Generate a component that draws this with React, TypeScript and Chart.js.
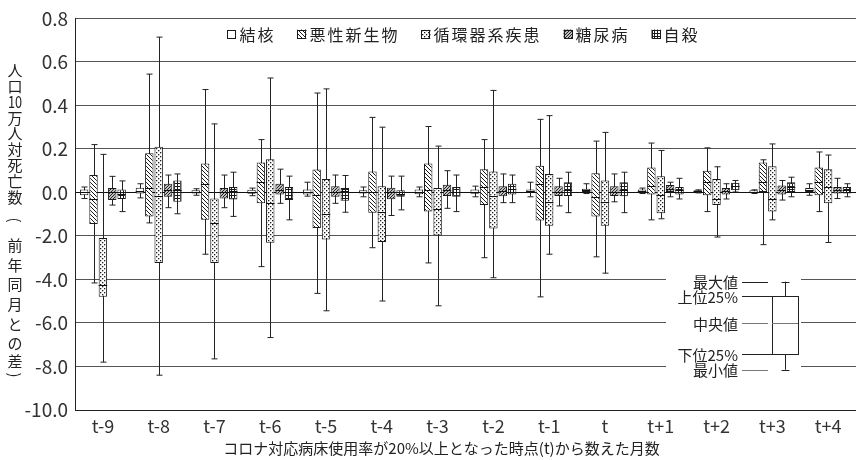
import { useEffect, useRef } from 'react';
import { Chart, registerables } from 'chart.js';

Chart.register(...registerables);

const FONT = '"Noto Sans CJK JP", "Noto Sans", sans-serif';

const categories = ['t-9', 't-8', 't-7', 't-6', 't-5', 't-4', 't-3', 't-2', 't-1', 't', 't+1', 't+2', 't+3', 't+4'];
const seriesLabels = ['結核', '悪性新生物', '循環器系疾患', '糖尿病', '自殺'];

// Each entry: [min, lower 25%, median, upper 25%, max] per category.
// Axis unit is linear; below zero the printed tick labels read ten times the value.
const tuberculosis = [
  [-0.028, -0.013, 0.002, 0.013, 0.025],
  [-0.025, -0.005, 0.005, 0.022, 0.04],
  [-0.013, -0.005, 0.0, 0.01, 0.017],
  [-0.015, -0.006, 0.002, 0.012, 0.02],
  [-0.017, -0.01, 0.002, 0.014, 0.047],
  [-0.02, -0.005, 0.0, 0.01, 0.025],
  [-0.02, -0.008, 0.002, 0.014, 0.025],
  [-0.02, -0.006, 0.0, 0.013, 0.029],
  [-0.02, 0.0, 0.005, 0.014, 0.047],
  [-0.005, 0.002, 0.01, 0.017, 0.04],
  [-0.005, 0.0, 0.005, 0.014, 0.02],
  [-0.002, 0.0, 0.005, 0.01, 0.012],
  [-0.005, -0.002, 0.004, 0.01, 0.012],
  [-0.013, 0.0, 0.01, 0.02, 0.04],
];
const neoplasms = [
  [-0.416, -0.145, -0.03, 0.08, 0.22],
  [-0.14, -0.11, 0.02, 0.18, 0.544],
  [-0.284, -0.126, 0.04, 0.133, 0.473],
  [-0.341, -0.05, 0.05, 0.138, 0.243],
  [-0.464, -0.163, -0.01, 0.105, 0.457],
  [-0.254, -0.093, 0.0, 0.096, 0.345],
  [-0.324, -0.088, 0.01, 0.133, 0.303],
  [-0.3, -0.058, 0.025, 0.107, 0.243],
  [-0.48, -0.129, 0.04, 0.123, 0.336],
  [-0.296, -0.111, -0.023, 0.088, 0.236],
  [-0.126, -0.01, 0.03, 0.115, 0.227],
  [-0.088, -0.013, 0.047, 0.1, 0.205],
  [-0.24, 0.0, 0.047, 0.138, 0.15],
  [-0.088, -0.013, 0.047, 0.115, 0.186],
];
const circulatory = [
  [-0.78, -0.479, -0.424, -0.209, 0.175],
  [-0.84, -0.324, -0.015, 0.21, 0.714],
  [-0.765, -0.324, -0.14, -0.028, 0.315],
  [-0.667, -0.231, -0.05, 0.153, 0.526],
  [-0.544, -0.216, -0.098, 0.062, 0.476],
  [-0.499, -0.228, -0.09, 0.028, 0.3],
  [-0.521, -0.198, -0.076, 0.02, 0.213],
  [-0.392, -0.166, -0.017, 0.096, 0.469],
  [-0.284, -0.153, -0.043, 0.085, 0.353],
  [-0.371, -0.153, -0.043, 0.055, 0.276],
  [-0.121, -0.096, -0.01, 0.075, 0.193],
  [-0.205, -0.058, -0.028, 0.062, 0.118],
  [-0.126, -0.088, -0.028, 0.12, 0.223],
  [-0.23, -0.05, 0.025, 0.107, 0.172],
];
const diabetes = [
  [-0.058, -0.035, 0.0, 0.02, 0.074],
  [-0.07, -0.02, 0.01, 0.04, 0.08],
  [-0.07, -0.028, 0.0, 0.02, 0.08],
  [-0.05, -0.01, 0.01, 0.04, 0.107],
  [-0.05, -0.02, 0.0, 0.029, 0.08],
  [-0.106, -0.031, 0.0, 0.022, 0.075],
  [-0.073, -0.016, 0.01, 0.035, 0.1],
  [-0.047, -0.017, 0.005, 0.028, 0.085],
  [-0.062, -0.016, 0.0, 0.028, 0.065],
  [-0.043, -0.016, 0.0, 0.028, 0.085],
  [-0.02, 0.002, 0.015, 0.034, 0.047],
  [-0.03, -0.01, 0.005, 0.02, 0.04],
  [-0.035, -0.01, 0.01, 0.032, 0.055],
  [-0.028, -0.005, 0.01, 0.025, 0.065],
];
const suicide = [
  [-0.088, -0.03, -0.005, 0.014, 0.053],
  [-0.098, -0.043, 0.01, 0.055, 0.085],
  [-0.11, -0.032, 0.005, 0.025, 0.093],
  [-0.126, -0.035, 0.0, 0.025, 0.075],
  [-0.091, -0.038, 0.005, 0.02, 0.078],
  [-0.08, -0.02, -0.005, 0.01, 0.075],
  [-0.088, -0.02, 0.0, 0.025, 0.08],
  [-0.047, -0.01, 0.015, 0.04, 0.08],
  [-0.093, -0.016, 0.01, 0.047, 0.093],
  [-0.093, -0.017, 0.01, 0.047, 0.093],
  [-0.03, -0.01, 0.01, 0.025, 0.065],
  [0.002, 0.01, 0.03, 0.045, 0.055],
  [-0.02, 0.002, 0.025, 0.047, 0.07],
  [-0.02, -0.005, 0.01, 0.025, 0.04],
];
const seriesStats = [tuberculosis, neoplasms, circulatory, diabetes, suicide];
const seriesPatterns = ['plain', 'back', 'dots', 'slash', 'grid'];

const yAxisTitle = ['人', '口', '10', '万', '人', '対', '死', '亡', '数', '(', '前', '年', '同', '月', 'と', 'の', '差', ')'];
const xAxisTitle = 'コロナ対応病床使用率が20%以上となった時点(t)から数えた月数';
const keyLabels = ['最大値', '上位25%', '中央値', '下位25%', '最小値'];
const keyLevels = [-0.41, -0.476, -0.6, -0.743, -0.815];

function makePattern(kind: string): CanvasPattern | string {
  if (kind === 'plain') return '#ffffff';
  const size = kind === 'grid' || kind === 'slash' ? 3 : 4;
  const c = document.createElement('canvas');
  c.width = size;
  c.height = size;
  const g = c.getContext('2d')!;
  g.fillStyle = '#fff';
  g.fillRect(0, 0, size, size);
  g.strokeStyle = '#1a1a1a';
  g.fillStyle = '#1a1a1a';
  g.lineWidth = 1;
  if (kind === 'back') {
    g.beginPath();
    g.moveTo(-1, -1); g.lineTo(size + 1, size + 1);
    g.moveTo(-1, size - 1); g.lineTo(1, size + 1);
    g.moveTo(size - 1, -1); g.lineTo(size + 1, 1);
    g.stroke();
  } else if (kind === 'slash') {
    g.lineWidth = 1.1;
    g.beginPath();
    g.moveTo(-1, size + 1); g.lineTo(size + 1, -1);
    g.moveTo(-1, 1); g.lineTo(1, -1);
    g.moveTo(size - 1, size + 1); g.lineTo(size + 1, size - 1);
    g.stroke();
  } else if (kind === 'dots') {
    g.fillRect(0, 0, 1.3, 1.3);
    g.fillRect(2, 2, 1.3, 1.3);
  } else if (kind === 'grid') {
    g.fillRect(0, 0, size, 1);
    g.fillRect(0, 0, 1, size);
  }
  return g.createPattern(c, 'repeat')!;
}

function tickLabel(v: number): string {
  if (Math.abs(v) < 1e-9) return '0.0';
  return v > 0 ? v.toFixed(1) : (v * 10).toFixed(1);
}

export default function App() {
  const ref = useRef<HTMLCanvasElement>(null);

  useEffect(() => {
    const canvas = ref.current!;
    const patterns = seriesPatterns.map(makePattern);

    const datasets = seriesLabels.map((label, i) => ({
      label,
      data: seriesStats[i].map((s) => [s[1], s[3]]),
      backgroundColor: patterns[i],
      borderColor: '#1a1a1a',
      borderWidth: 1,
      borderSkipped: false as const,
      categoryPercentage: 0.84,
      barPercentage: 0.9,
    }));

    const boxPlugin = {
      id: 'boxWhiskers',
      beforeDatasetsDraw(chart: any) {
        const y = chart.scales.y;
        const ctx = chart.ctx;
        ctx.save();
        ctx.strokeStyle = '#222';
        ctx.lineWidth = 1;
        seriesStats.forEach((stats, i) => {
          const meta = chart.getDatasetMeta(i);
          meta.data.forEach((el: any, j: number) => {
            const s = stats[j];
            const x = Math.round(el.x) + 0.5;
            const y0 = y.getPixelForValue(s[0]);
            const y4 = y.getPixelForValue(s[4]);
            ctx.beginPath();
            ctx.moveTo(x, y4); ctx.lineTo(x, y0);
            ctx.moveTo(x - 3, y4); ctx.lineTo(x + 3, y4);
            ctx.moveTo(x - 3, y0); ctx.lineTo(x + 3, y0);
            ctx.stroke();
          });
        });
        ctx.restore();
      },
      afterDatasetsDraw(chart: any) {
        const y = chart.scales.y;
        const ctx = chart.ctx;
        ctx.save();
        ctx.strokeStyle = '#111';
        ctx.lineWidth = 1;
        seriesStats.forEach((stats, i) => {
          const meta = chart.getDatasetMeta(i);
          meta.data.forEach((el: any, j: number) => {
            const ym = Math.round(y.getPixelForValue(stats[j][2])) + 0.5;
            ctx.beginPath();
            ctx.moveTo(el.x - el.width / 2, ym);
            ctx.lineTo(el.x + el.width / 2, ym);
            ctx.stroke();
          });
        });
        ctx.restore();
      },
    };

    const decorPlugin = {
      id: 'decor',
      afterDraw(chart: any) {
        const ctx = chart.ctx;
        const a = chart.chartArea;
        const y = chart.scales.y;
        ctx.save();

        // Legend inside the plot area
        ctx.font = `16px ${FONT}`;
        (ctx as any).letterSpacing = '2px';
        ctx.textBaseline = 'middle';
        ctx.textAlign = 'left';
        const box = 9, gapBox = 3, gapItem = 22;
        const widths = seriesLabels.map((l) => box + gapBox + ctx.measureText(l).width);
        const total = widths.reduce((p, w) => p + w, 0) + gapItem * (widths.length - 1);
        let lx = (a.left + a.right) / 2 - 2 - total / 2;
        const ly = 34;
        seriesLabels.forEach((l, i) => {
          ctx.fillStyle = patterns[i];
          ctx.fillRect(lx, ly - box / 2, box, box);
          ctx.strokeStyle = '#1a1a1a';
          ctx.lineWidth = 1;
          ctx.strokeRect(Math.round(lx) + 0.5, Math.round(ly - box / 2) + 0.5, box - 1, box - 1);
          ctx.fillStyle = '#222';
          ctx.fillText(l, lx + box + gapBox, ly + 1);
          lx += widths[i] + gapItem;
        });
        (ctx as any).letterSpacing = '0px';

        // Box-plot key
        const ys = keyLevels.map((v) => y.getPixelForValue(v));
        const right = a.right;
        ctx.fillStyle = '#fff';
        ctx.fillRect(right - 190, ys[0] - 12, 135, ys[4] - ys[0] + 22);
        const boxL = right - 84, boxR = right - 58, cx = Math.round((boxL + boxR) / 2) + 0.5;
        ctx.lineWidth = 1;
        keyLabels.forEach((_, k) => {
          const yy = Math.round(ys[k]) + 0.5;
          ctx.strokeStyle = k === 2 || k === 4 ? '#777' : '#222';
          ctx.beginPath();
          ctx.moveTo(right - 114, yy);
          ctx.lineTo(k === 1 || k === 3 ? boxL : right - 88, yy);
          ctx.stroke();
        });
        ctx.strokeStyle = '#222';
        ctx.beginPath();
        ctx.moveTo(cx, ys[0]); ctx.lineTo(cx, ys[1]);
        ctx.moveTo(cx, ys[3]); ctx.lineTo(cx, ys[4]);
        ctx.moveTo(cx - 4, Math.round(ys[0]) + 0.5); ctx.lineTo(cx + 4, Math.round(ys[0]) + 0.5);
        ctx.moveTo(cx - 4, Math.round(ys[4]) + 0.5); ctx.lineTo(cx + 4, Math.round(ys[4]) + 0.5);
        ctx.stroke();
        ctx.strokeRect(boxL + 0.5, Math.round(ys[1]) + 0.5, boxR - boxL, Math.round(ys[3] - ys[1]));
        ctx.strokeStyle = '#777';
        ctx.beginPath();
        ctx.moveTo(boxL, Math.round(ys[2]) + 0.5); ctx.lineTo(boxR, Math.round(ys[2]) + 0.5);
        ctx.stroke();
        ctx.fillStyle = '#222';
        ctx.font = `15px ${FONT}`;
        ctx.textAlign = 'right';
        keyLabels.forEach((l, k) => ctx.fillText(l, right - 118, ys[k] + 1));

        // Y axis title, vertical writing
        const yCenters = [70, 86, 102, 118, 133, 149, 165, 181, 197, 220, 245, 265, 284, 304, 324, 343, 361, 375];
        ctx.textAlign = 'center';
        yAxisTitle.forEach((g, k) => {
          ctx.save();
          ctx.translate(15, yCenters[k]);
          if (g === '(' || g === ')') ctx.rotate(Math.PI / 2);
          if (g.length > 1) {
            ctx.font = `17px ${FONT}`;
            ctx.scale(0.75, 1);
          } else {
            ctx.font = `15px ${FONT}`;
          }
          ctx.fillText(g, 0, 0);
          ctx.restore();
        });

        // X axis title
        ctx.font = `15px ${FONT}`;
        ctx.fillText(xAxisTitle, (a.left + a.right) / 2 - 24, 448);
        ctx.restore();
      },
    };

    const chart = new Chart(canvas, {
      type: 'bar',
      data: { labels: categories, datasets },
      options: {
        animation: false,
        responsive: false,
        devicePixelRatio: 1,
        layout: { padding: { top: 13, right: 0, left: 0, bottom: 0 } },
        plugins: { legend: { display: false }, tooltip: { enabled: false } },
        scales: {
          x: {
            grid: { display: false, drawTicks: false },
            border: { display: true, color: '#222', width: 1 },
            ticks: { font: { family: FONT, size: 18 }, color: '#333', padding: 5 },
            afterFit: (s: any) => { s.height = 50; },
          },
          y: {
            min: -1.0,
            max: 0.8,
            grid: {
              drawTicks: false,
              color: (c: any) => (Math.abs(c.tick.value) < 1e-9 ? '#111' : '#555'),
              lineWidth: 1,
            },
            border: { display: true, color: '#222', width: 1 },
            ticks: {
              stepSize: 0.2,
              font: { family: FONT, size: 19 },
              color: '#333',
              padding: 7,
              callback: (v: any) => tickLabel(Number(v)),
            },
            afterFit: (s: any) => { s.width = 75; },
          },
        },
      },
      plugins: [boxPlugin, decorPlugin],
    });
    return () => chart.destroy();
  }, []);

  return (
    <div style={{ position: 'fixed', left: 0, top: 0, width: 856, height: 460, background: '#fff' }}>
      <canvas ref={ref} width={856} height={460} style={{ width: 856, height: 460, display: 'block' }} />
    </div>
  );
}
